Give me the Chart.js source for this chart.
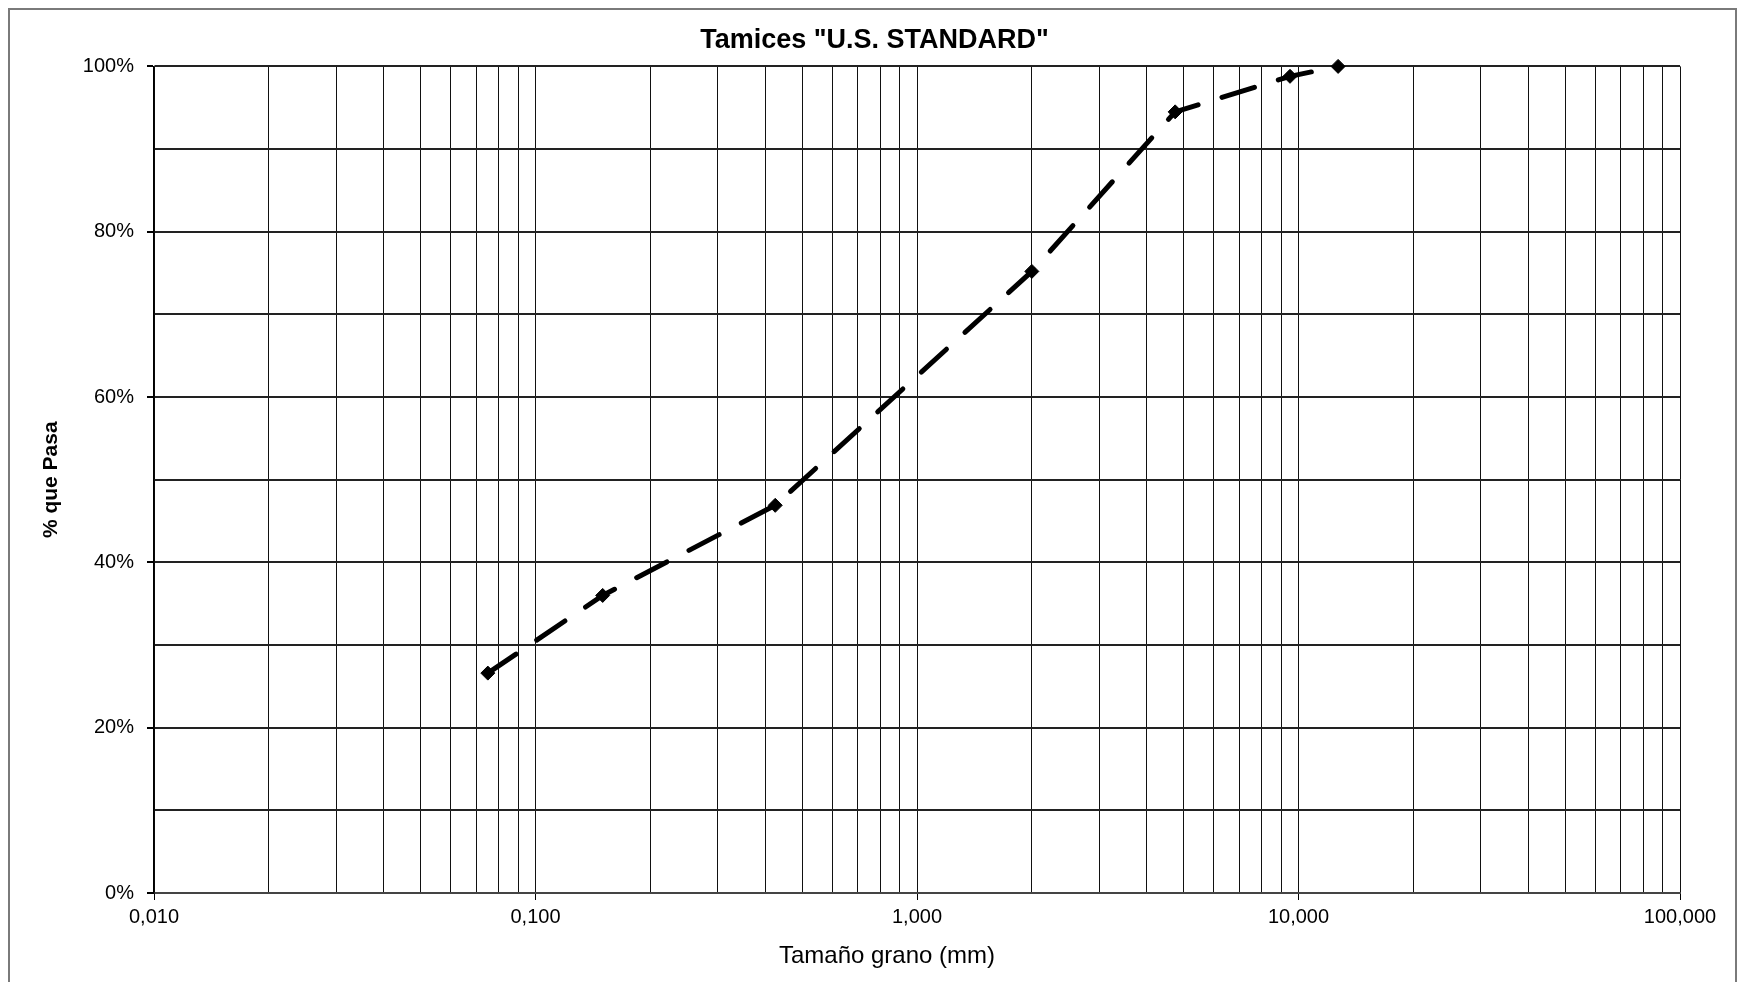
<!DOCTYPE html>
<html>
<head>
<meta charset="utf-8">
<script src="https://cdn.jsdelivr.net/npm/chart.js@4.4.1/dist/chart.umd.min.js"></script>
<style>
  html, body { margin: 0; padding: 0; background: #fff; }
  canvas { display: block; }
</style>
</head>
<body>
<canvas id="curva" width="1749" height="982"></canvas>
<script>
// abertura del tamiz (mm) y % que pasa
const tamiz_mm = [0.075, 0.150, 0.425, 2.00, 4.75, 9.50, 12.70];
const pct_pasa = [26.6, 36.0, 46.9, 75.2, 94.5, 98.8, 100.0];

const x_min = 0.01;
const x_max = 100;
const titulo = 'Tamices "U.S. STANDARD"';
const titulo_x = 'Tamaño grano (mm)';
const titulo_y = '% que Pasa';

function esDecada(v) {
  const l = Math.log10(v);
  return Math.abs(l - Math.round(l)) < 1e-9;
}

// solo 1,2,...,9 por decada (chart.js mete 1.5 y similares)
function esEntero(v) {
  const e = Math.floor(Math.log10(v) + 1e-9);
  const m = v / Math.pow(10, e);
  return Math.abs(m - Math.round(m)) < 1e-6;
}

// marco gris alrededor del grafico
const marco = {
  id: 'marco',
  beforeDraw(chart) {
    const c = chart.ctx;
    c.save();
    c.fillStyle = '#fff';
    c.fillRect(0, 0, chart.width, chart.height);
    c.strokeStyle = '#7a7a7a';
    c.lineWidth = 2;
    c.strokeRect(9, 9, chart.width - 22, chart.height + 20);
    c.restore();
  }
};

Chart.defaults.font.family = "'Liberation Sans', Arial, sans-serif";
Chart.defaults.color = '#000';

const puntos = tamiz_mm.map((d, i) => ({ x: d, y: pct_pasa[i] }));

var ctx = document.getElementById('curva').getContext('2d');
var grafico = new Chart(ctx, {
  type: 'line',
  data: {
    datasets: [{
      label: '% que pasa',
      data: puntos,
      clip: false,
      borderColor: '#000',
      backgroundColor: '#000',
      borderWidth: 5,
      borderDash: [34, 25],
      borderCapStyle: 'round',
      tension: 0,
      pointStyle: 'rectRot',
      pointRadius: 7,
      pointBorderWidth: 1,
      pointBackgroundColor: '#000',
      pointBorderColor: '#000'
    }]
  },
  options: {
    responsive: false,
    animation: false,
    layout: { padding: 0 },
    plugins: {
      legend: { display: false },
      tooltip: { enabled: false },
      title: {
        display: true,
        text: titulo,
        color: '#000',
        font: { size: 27, weight: 'bold' },
        padding: { top: 24, bottom: 10 }
      }
    },
    scales: {
      x: {
        type: 'logarithmic',
        min: x_min,
        max: x_max,
        afterBuildTicks: s => { s.ticks = s.ticks.filter(t => esEntero(t.value)); },
        afterFit: s => { s.height = 89; },
        grid: {
          color: '#111',
          lineWidth: 1,
          tickLength: 7,
          tickColor: c => (c.tick && esDecada(c.tick.value)) ? '#000' : 'rgba(0,0,0,0)'
        },
        border: { display: true, color: '#444', width: 2 },
        ticks: {
          autoSkip: false,
          maxRotation: 0,
          padding: 5,
          font: { size: 20 },
          callback: v => esDecada(v) ? v.toFixed(3).replace('.', ',') : ''
        },
        title: {
          display: true,
          // espacios al final para correr el titulo a la izquierda como en el original
          text: titulo_x + '\u00a0'.repeat(9),
          font: { size: 24 },
          padding: { top: 0, bottom: 11 }
        }
      },
      y: {
        min: 0,
        max: 100,
        afterFit: s => { s.width = 154; },
        grid: {
          color: '#222',
          lineWidth: 2,
          tickLength: 7,
          tickColor: c => (c.tick && c.tick.value % 20 === 0) ? '#000' : 'rgba(0,0,0,0)'
        },
        border: { display: true, color: '#000', width: 1.5 },
        ticks: {
          stepSize: 10,
          padding: 13,
          font: { size: 20 },
          callback: v => v % 20 === 0 ? v + '%' : ''
        },
        title: {
          display: true,
          text: titulo_y,
          font: { size: 21, weight: 'bold' },
          padding: { top: 39, bottom: 0 }
        }
      },
      // eje vacio a la derecha, solo reserva el margen
      yDer: {
        position: 'right',
        min: 0,
        max: 1,
        afterFit: s => { s.width = 69; },
        grid: { display: false },
        border: { display: false },
        ticks: { display: false }
      }
    }
  },
  plugins: [marco]
});
</script>
</body>
</html>
